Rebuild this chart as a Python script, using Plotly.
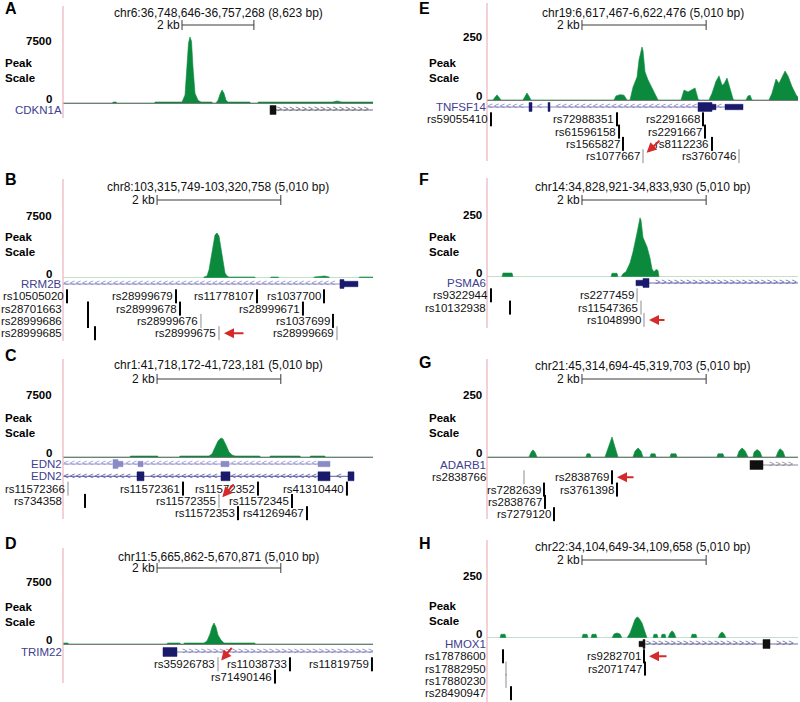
"""
Eight UCSC-style browser views: peak-scale signal track, gene model and
SNP rows per locus (panels A-H), with the SNP of interest flagged in red.
"""
import numpy as np
import plotly.graph_objects as go

W, H = 800, 702
FONT = "Liberation Sans, Arial, Helvetica, sans-serif"
GREEN = "#0b8a3e"
PINK = "#ebb3ba"
LABEL_BLUE = "#40408f"
ARROW_RED = "#d42a2a"

# ---------------------------------------------------------------- data
PANEL_KEYS = ["A", "B", "C", "D", "E", "F", "G", "H"]
REGIONS = [
    "chr6:36,748,646-36,757,268 (8,623 bp)",
    "chr8:103,315,749-103,320,758 (5,010 bp)",
    "chr1:41,718,172-41,723,181 (5,010 bp)",
    "chr11:5,665,862-5,670,871 (5,010 bp)",
    "chr19:6,617,467-6,622,476 (5,010 bp)",
    "chr14:34,828,921-34,833,930 (5,010 bp)",
    "chr21:45,314,694-45,319,703 (5,010 bp)",
    "chr22:34,104,649-34,109,658 (5,010 bp)",
]
SPANS = [8623, 5010, 5010, 5010, 5010, 5010, 5010, 5010]
SCALE_MAX = [7500, 7500, 7500, 7500, 250, 250, 250, 250]
SCALEBAR_START = [3310, 1520, 1520, 1520, 1530, 1530, 1530, 1530]
SCALEBAR_BP = 2000

# signal tracks: bp offset from window start, peak-scale value
A_POS = [0, 1380, 1390, 1480, 1490, 2550, 2560, 3311, 3394, 3450, 3491, 3533, 3575,
         3617, 3672, 3756, 3839, 4145, 4155, 4256, 4312, 4368, 4423, 4479, 4535, 4590,
         5200, 5210, 5420, 5430, 7500, 7622, 7750, 8623]
A_VAL = [0, 0, 110, 110, 0, 0, 110, 110, 900, 4000, 6800, 7500, 7000,
         4000, 1100, 300, 110, 110, 0, 0, 300, 1000, 1480, 1100, 300, 110,
         110, 0, 0, 110, 110, 230, 110, 110]
B_POS = [0, 2270, 2279, 2327, 2359, 2392, 2424, 2456, 2489, 2521, 2553, 2586, 2618,
         2650, 2683, 2731, 3100, 3110, 3350, 3360, 3480, 3490, 4050, 4060, 4180, 4230,
         4300, 4310, 4780, 4790, 5010]
B_VAL = [0, 0, 110, 230, 900, 2270, 3980, 4880, 5110, 4770, 3400, 1700, 570,
         230, 110, 110, 110, 0, 0, 110, 110, 0, 0, 110, 230, 230,
         110, 0, 0, 110, 110]
C_POS = [0, 1080, 1090, 1530, 1540, 1880, 1890, 2359, 2408, 2456, 2505, 2553, 2586,
         2634, 2683, 2731, 2780, 3180, 3190, 3340, 3350, 3830, 3840, 3990, 4000, 4230,
         4240, 5010]
C_VAL = [0, 0, 110, 110, 0, 0, 110, 110, 340, 1020, 1820, 2160, 2050,
         1360, 570, 230, 110, 110, 0, 0, 110, 110, 0, 0, 110, 110,
         0, 0]
D_POS = [0, 80, 90, 1680, 1690, 1890, 1900, 1950, 1960, 2279, 2327, 2376, 2408,
         2440, 2472, 2505, 2553, 2602, 2650, 3100, 3110, 5010]
D_VAL = [110, 110, 0, 0, 110, 110, 0, 0, 110, 110, 340, 1140, 1930,
         2390, 1930, 1020, 450, 110, 110, 110, 0, 0]
E_POS = [0, 97, 129, 161, 193, 226, 580, 612, 644, 677, 709, 2046, 2078, 2143, 2207,
         2255, 2304, 2352, 2417, 2449, 2481, 2497, 2513, 2545, 2594, 2674, 2739, 2755,
         3125, 3174, 3238, 3303, 3351, 3399, 3415, 3576, 3625, 3689, 3738, 3786, 3818,
         3866, 3915, 3963, 3979, 4172, 4204, 4237, 4269, 4543, 4591, 4656, 4704, 4752,
         4801, 4849, 4913, 4978, 5010]
E_VAL = [0, 0, 10, 19, 10, 0, 0, 12, 26, 14, 0, 0, 15, 20, 18,
         0, 0, 48, 86, 150, 190, 198, 185, 105, 75, 37, 5, 0,
         0, 37, 30, 40, 45, 5, 0, 0, 25, 70, 90, 55, 60,
         82, 40, 5, 0, 0, 15, 18, 0, 0, 25, 78, 62, 85,
         108, 90, 50, 20, 10]
F_POS = [0, 242, 258, 403, 419, 1998, 2014, 2094, 2110, 2159, 2191, 2239, 2304, 2352,
         2417, 2449, 2465, 2481, 2513, 2578, 2626, 2658, 2690, 2723, 2755, 2771, 5010]
F_VAL = [0, 0, 15, 15, 0, 0, 14, 14, 0, 0, 12, 20, 53, 95,
         167, 215, 224, 215, 150, 114, 72, 30, 20, 28, 25, 0, 0]
G_POS = [0, 677, 709, 741, 773, 806, 1595, 1611, 1659, 1675, 1901, 1933, 1965, 2014,
         2046, 2078, 2110, 2352, 2384, 2433, 2481, 2513, 2626, 2642, 2707, 2723, 2948,
         2964, 3045, 3061, 3705, 3721, 3802, 3818, 4028, 4060, 4108, 4156, 4205, 4285,
         4301, 4350, 4398, 4430, 4656, 4688, 4720, 4768, 4801, 5010]
G_VAL = [0, 0, 18, 27, 18, 0, 0, 12, 12, 0, 0, 20, 45, 76,
         50, 25, 0, 0, 22, 34, 22, 0, 0, 12, 12, 0, 0,
         12, 12, 0, 0, 12, 12, 0, 0, 22, 34, 24, 0, 0,
         18, 28, 20, 0, 0, 20, 31, 22, 0, 0]
H_POS = [0, 209, 226, 290, 306, 1530, 1547, 1611, 1627, 1675, 1692, 1756, 1772, 2014,
         2046, 2094, 2143, 2175, 2255, 2304, 2352, 2384, 2417, 2449, 2497, 2545, 2578,
         2674, 2690, 2739, 2755, 2803, 2819, 2868, 2884, 2916, 2948, 2980, 3013, 3045,
         3286, 3303, 3367, 3383, 3721, 3754, 3786, 3818, 3850, 5010]
H_VAL = [0, 0, 14, 14, 0, 0, 14, 14, 0, 0, 14, 14, 0, 0,
         15, 19, 15, 0, 0, 19, 49, 70, 80, 75, 57, 23, 0,
         0, 14, 14, 0, 0, 14, 14, 0, 0, 18, 27, 20, 0,
         0, 14, 14, 0, 0, 16, 23, 16, 0, 0]

# gene models: (name, strand, start, end, row); exons: (row, start, end, thick)
A_GENES = [("CDKN1A", "+", 5759, 8623, 0)]
A_EXONS = [(0, 5759, 5926, 1)]
B_GENES = [("RRM2B", "-", 0, 4767, 0)]
B_EXONS = [(0, 4476, 4541, 1), (0, 4541, 4767, 0)]
C_GENES = [("EDN2", "-", 0, 4315, 0), ("EDN2", "-", 0, 4703, 1)]
C_EXONS = [(0, 808, 889, 1), (0, 889, 970, 0), (0, 1212, 1293, 0), (0, 2553, 2683, 0),
           (0, 4121, 4315, 0), (1, 1196, 1309, 1), (1, 2553, 2699, 1),
           (1, 4121, 4315, 1), (1, 4606, 4703, 1)]
D_GENES = [("TRIM22", "+", 1616, 5010, 0)]
D_EXONS = [(0, 1616, 1842, 1)]
E_GENES = [("TNFSF14", "-", 0, 4124, 0)]
E_EXONS = [(0, 677, 725, 1), (0, 983, 1015, 1), (0, 3399, 3625, 1), (0, 3625, 3689, 0),
           (0, 3834, 4124, 0)]
F_GENES = [("PSMA6", "+", 2400, 5010, 0)]
F_EXONS = [(0, 2400, 2513, 0), (0, 2513, 2610, 1)]
G_GENES = [("ADARB1", "+", 4237, 5010, 0)]
G_EXONS = [(0, 4237, 4446, 1)]
H_GENES = [("HMOX1", "+", 2449, 5010, 0)]
H_EXONS = [(0, 2449, 2513, 0), (0, 2513, 2545, 1), (0, 4446, 4559, 1)]

# SNPs: (rs id, bp offset, row)
A_SNPS = []
B_SNPS = [("rs10505020", 65, 1), ("rs28999679", 1826, 1), ("rs11778107", 3135, 1),
          ("rs1037700", 4218, 1), ("rs28701663", 404, 2), ("rs28999678", 1891, 2),
          ("rs28999671", 3878, 2), ("rs28999686", 404, 3), ("rs28999676", 2230, 3),
          ("rs1037699", 4363, 3), ("rs28999685", 517, 4), ("rs28999675", 2521, 4),
          ("rs28999669", 4428, 4)]
C_SNPS = [("rs11572366", 81, 2), ("rs11572361", 1939, 2), ("rs11572352", 3151, 2),
          ("rs41310440", 4589, 2), ("rs734358", 356, 3), ("rs11572355", 2521, 3),
          ("rs11572345", 3701, 3), ("rs11572353", 2828, 4), ("rs41269467", 3943, 4)]
D_SNPS = [("rs35926783", 2505, 1), ("rs11038733", 3668, 1), ("rs11819759", 4993, 1),
          ("rs71490146", 3426, 2)]
E_SNPS = [("rs59055410", 64, 1), ("rs72988351", 2094, 1), ("rs2291668", 3480, 1),
          ("rs61596158", 2127, 2), ("rs2291667", 3512, 2), ("rs1565827", 2191, 3),
          ("rs8112236", 3625, 3), ("rs1077667", 2513, 4), ("rs3760746", 4060, 4)]
F_SNPS = [("rs9322944", 64, 1), ("rs2277459", 2417, 1), ("rs10132938", 371, 2),
          ("rs11547365", 2481, 2), ("rs1048990", 2529, 3)]
G_SNPS = [("rs2838766", 596, 1), ("rs2838769", 2014, 1), ("rs7282639", 918, 2),
          ("rs3761398", 2094, 2), ("rs2838767", 934, 3), ("rs7279120", 1079, 4)]
H_SNPS = [("rs17878600", 258, 1), ("rs9282701", 2529, 1), ("rs17882950", 306, 2),
          ("rs2071747", 2545, 2), ("rs17880230", 306, 3), ("rs28490947", 387, 4)]

MARGIN_LABELS = ["rs28701663", "rs28999686", "rs28999685", "rs734358", "rs10132938",
                 "rs2838766", "rs17878600", "rs17882950", "rs17880230", "rs28490947"]
GRAY_SNPS = ["rs28999676", "rs28999675", "rs28999669", "rs11572366", "rs11572355",
             "rs35926783", "rs1077667", "rs3760746", "rs2277459", "rs11547365",
             "rs1048990", "rs17882950", "rs17880230", "rs2838766"]
HIGHLIGHT = ["rs28999675", "rs11572355", "rs35926783", "rs1077667", "rs1048990",
             "rs2838769", "rs9282701"]

SIGNAL = {"A": (A_POS, A_VAL), "B": (B_POS, B_VAL), "C": (C_POS, C_VAL),
          "D": (D_POS, D_VAL), "E": (E_POS, E_VAL), "F": (F_POS, F_VAL),
          "G": (G_POS, G_VAL), "H": (H_POS, H_VAL)}
GENES = {"A": A_GENES, "B": B_GENES, "C": C_GENES, "D": D_GENES,
         "E": E_GENES, "F": F_GENES, "G": G_GENES, "H": H_GENES}
EXONS = {"A": A_EXONS, "B": B_EXONS, "C": C_EXONS, "D": D_EXONS,
         "E": E_EXONS, "F": F_EXONS, "G": G_EXONS, "H": H_EXONS}
SNPS = {"A": A_SNPS, "B": B_SNPS, "C": C_SNPS, "D": D_SNPS,
        "E": E_SNPS, "F": F_SNPS, "G": G_SNPS, "H": H_SNPS}

# ---------------------------------------------------------------- style
# (exon colour, intron/chevron colour) per gene row
GENE_STYLE = {
    ("A", 0): ("#101010", "#6c6c7c"),
    ("B", 0): ("#1a1a6c", "#8e8ec8"),
    ("C", 0): ("#8a8ac6", "#9a9ad2"),
    ("C", 1): ("#1a1a6c", "#5a5aa6"),
    ("D", 0): ("#1a1a6c", "#8686c2"),
    ("E", 0): ("#1a1a6c", "#8686c2"),
    ("F", 0): ("#1a1a6c", "#6a6ab2"),
    ("G", 0): ("#101010", "#8a8a9a"),
    ("H", 0): ("#101010", "#6e6e9e"),
}
# pixel layout of each panel
PANEL_PX = {
    "A": dict(col=0, letter=8, title=13, bar=25, top=37, base=103, row0=110, peak=70, pink=(6, 118)),
    "B": dict(col=0, letter=180, title=187, bar=200, top=212, base=278, row0=284, peak=245, pink=(179, 341)),
    "C": dict(col=0, letter=355, title=365, bar=379, top=391, base=457, row0=464, peak=425, pink=(359, 519)),
    "D": dict(col=0, letter=543, title=557, bar=568, top=578, base=644, row0=652, peak=614, pink=(548, 683)),
    "E": dict(col=1, letter=8, title=13, bar=25, top=33, base=100, row0=107, peak=70, pink=(3, 161)),
    "F": dict(col=1, letter=179, title=187, bar=200, top=211, base=277, row0=283, peak=245, pink=(178, 328)),
    "G": dict(col=1, letter=362, title=366, bar=379, top=391, base=457, row0=465, peak=425, pink=(359, 519)),
    "H": dict(col=1, letter=543, title=547, bar=560, top=572, base=638, row0=644, peak=613, pink=(540, 702)),
}
ARROW_TAIL = {"B": (26, 0), "C": (16, -18), "D": (15, -18), "E": (18, -17),
              "F": (22, 0), "G": (23, 0), "H": (24, 0)}
COL_X = {0: (63, 373), 1: (487, 798)}
COL_LETTER_X = {0: 3, 1: 417}
COL_PEAK_X = {0: 3, 1: 427}
COL_SCALE_X = {0: 54, 1: 484}
PITCH = 12.3
FS = 11.5


def xp(px):
    return px / W


def yp(px):
    return 1 - px / H


def ref(axis, n):
    return axis if n == 1 else f"{axis}{n}"


def axkey(axis, n):
    return f"{axis}axis" if n == 1 else f"{axis}axis{n}"


fig = go.Figure()
layout = {}
shapes = []
ann = []


def text(x, y, s, xref="paper", yref="paper", xanchor="left", size=FS, color="#111",
         bold=False, **kw):
    ann.append(dict(x=x, y=y, xref=xref, yref=yref, text=f"<b>{s}</b>" if bold else s,
                    showarrow=False, xanchor=xanchor, yanchor="middle",
                    font=dict(family=FONT, size=size, color=color), **kw))


for i, k in enumerate(PANEL_KEYS):
    P = PANEL_PX[k]
    col = P["col"]
    x0, x1 = COL_X[col]
    ns, nf = 2 * i + 1, 2 * i + 2
    sx, sy, fx, fy = ref("x", ns), ref("y", ns), ref("x", nf), ref("y", nf)
    span, vmax = SPANS[i], SCALE_MAX[i]
    genes, exons, snps = GENES[k], EXONS[k], SNPS[k]
    nrows = max([g[4] for g in genes] + [s[2] for s in snps]) + 1
    r0 = P["row0"]

    layout[axkey("x", ns)] = dict(domain=[xp(x0), xp(x1)], range=[0, span], anchor=sy,
                                  showline=True, linecolor="#7a7a7a", linewidth=1,
                                  showticklabels=False, ticks="", showgrid=False,
                                  zeroline=False, fixedrange=True)
    layout[axkey("y", ns)] = dict(domain=[yp(P["base"]), yp(P["top"])], range=[0, vmax],
                                  anchor=sx, visible=False, fixedrange=True)
    layout[axkey("x", nf)] = dict(domain=[xp(x0), xp(x1)], range=[0, span], anchor=fy,
                                  visible=False, fixedrange=True)
    layout[axkey("y", nf)] = dict(domain=[yp(r0 + PITCH * (nrows - 0.5)), yp(r0 - PITCH / 2)],
                                  range=[nrows - 0.5, -0.5], anchor=fx, visible=False,
                                  fixedrange=True)

    # signal
    pos, val = SIGNAL[k]
    fig.add_trace(go.Scatter(x=pos, y=val, mode="lines", line=dict(color=GREEN, width=0.6),
                             fill="tozeroy", fillcolor=GREEN, xaxis=sx, yaxis=sy,
                             hoverinfo="skip"))

    # gene models
    for name, strand, g0, g1, row in genes:
        ex_col, ln_col = GENE_STYLE[(k, row)]
        fig.add_trace(go.Scatter(x=[g0, g1], y=[row, row], mode="lines",
                                 line=dict(color=ln_col, width=1), xaxis=fx, yaxis=fy,
                                 hoverinfo="skip"))
        step = span / (x1 - x0) * 6.2
        row_ex = [(a, b) for r, a, b, t in exons if r == row]
        marks = [m for m in np.arange(g0 + step / 2, g1 - step / 3, step)
                 if not any(a - step * 0.5 <= m <= b + step * 0.5 for a, b in row_ex)]
        fig.add_trace(go.Scatter(x=marks, y=[row] * len(marks), mode="text",
                                 text=["<" if strand == "-" else ">"] * len(marks),
                                 textposition="middle center",
                                 textfont=dict(family=FONT, size=9, color=ln_col),
                                 xaxis=fx, yaxis=fy, hoverinfo="skip"))
        for r, a, b, thick in exons:
            if r != row:
                continue
            h = 0.36 if thick else 0.22
            fig.add_trace(go.Scatter(x=[a, b, b, a, a], y=[r - h, r - h, r + h, r + h, r - h],
                                     mode="lines", fill="toself", fillcolor=ex_col,
                                     line=dict(color=ex_col, width=0.5), xaxis=fx, yaxis=fy,
                                     hoverinfo="skip"))
        text(xp(x0), row, name, yref=fy, xanchor="right", color=LABEL_BLUE, xshift=1)

    # SNP rows
    if snps:
        gray = [s[0] in GRAY_SNPS for s in snps]
        fig.add_trace(go.Scatter(
            x=[s[1] for s in snps], y=[s[2] for s in snps], mode="markers",
            marker=dict(symbol="line-ns", size=10,
                        line=dict(color=["#8c8c8c" if g else "#000" for g in gray],
                                  width=[1 if g else 2 for g in gray])),
            xaxis=fx, yaxis=fy, cliponaxis=False, hoverinfo="skip"))
    for name, p, row in snps:
        if name in MARGIN_LABELS:
            text(xp(x0), row, name, yref=fy, xanchor="right", xshift=1)
        else:
            text(p, row, name, xref=fx, yref=fy, xanchor="right", xshift=-1)
        if name in HIGHLIGHT:
            ax, ay = ARROW_TAIL[k]
            ann.append(dict(x=p, y=row, xref=fx, yref=fy, text="", showarrow=True,
                            ax=ax, ay=ay, arrowcolor=ARROW_RED, arrowwidth=2,
                            arrowhead=2, arrowsize=1, standoff=5))

    # headings, scale labels
    text(xp(COL_LETTER_X[col]), yp(P["letter"]), k, size=16, color="#000", bold=True)
    text(xp((x0 + x1) / 2), yp(P["title"]), REGIONS[i], xanchor="center", size=12)
    text(xp(COL_PEAK_X[col]), yp(P["peak"]), "Peak<br>Scale", size=11.5, bold=True,
         color="#000", align="left")
    text(xp(COL_SCALE_X[col]), vmax, f"{vmax}", yref=sy, xanchor="right", size=11.5,
         bold=True, color="#000", yshift=-4)
    text(xp(COL_SCALE_X[col]), 0, "0", yref=sy, xanchor="right", size=11.5, bold=True,
         color="#000", yshift=4)

    # 2 kb scale bar
    b0, b1 = SCALEBAR_START[i], SCALEBAR_START[i] + SCALEBAR_BP
    yb = yp(P["bar"])
    for sh in [(b0, yb, b1, yb), (b0, yp(P["bar"] - 5), b0, yp(P["bar"] + 5)),
               (b1, yp(P["bar"] - 5), b1, yp(P["bar"] + 5))]:
        shapes.append(dict(type="line", xref=sx, yref="paper", x0=sh[0], y0=sh[1],
                           x1=sh[2], y1=sh[3], line=dict(color="#3a3a3a", width=1)))
    text(b0, yb, "2 kb", xref=sx, xanchor="right", xshift=0, size=12)

    # pink left border of the image area
    shapes.append(dict(type="line", xref="paper", yref="paper", x0=xp(x0), x1=xp(x0),
                       y0=yp(P["pink"][0]), y1=yp(P["pink"][1]),
                       line=dict(color=PINK, width=1.2)))

fig.update_layout(
    width=W, height=H, margin=dict(l=0, r=0, t=0, b=0),
    paper_bgcolor="white", plot_bgcolor="white", showlegend=False,
    hovermode=False, shapes=shapes, annotations=ann,
    font=dict(family=FONT, size=FS, color="#111"), **layout,
)

fig.write_html("out.html", config={"displayModeBar": False},
               post_script="document.body.style.margin='0';")
